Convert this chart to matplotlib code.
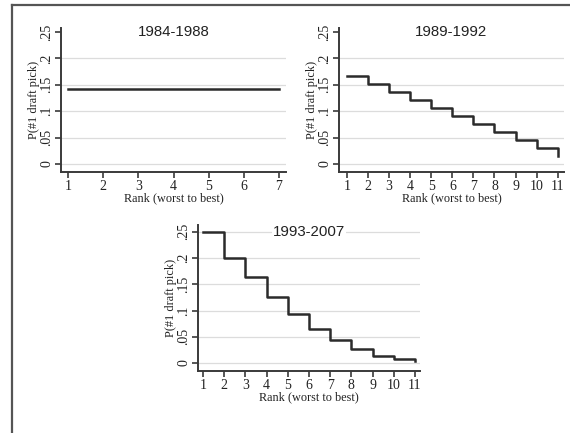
import numpy as np
import matplotlib
matplotlib.use("Agg")
import matplotlib.pyplot as plt
from matplotlib.lines import Line2D

# Lottery odds of getting the #1 pick, by rank (worst to best)
ranks_84 = [1, 2, 3, 4, 5, 6, 7]
prob_84 = [1 / 7] * 7

ranks_89 = list(range(1, 12))
prob_89 = [11 / 66, 10 / 66, 9 / 66, 8 / 66, 7 / 66, 6 / 66, 5 / 66, 4 / 66, 3 / 66, 2 / 66, 1 / 66]

ranks_93 = list(range(1, 12))
prob_93 = [0.25, 0.20, 0.163, 0.125, 0.094, 0.065, 0.044, 0.027, 0.014, 0.007, 0.003]

yticks = [0, 0.05, 0.1, 0.15, 0.2, 0.25]
ytick_labels = ["0", ".05", ".1", ".15", ".2", ".25"]

W, H = 570, 433
fig = plt.figure(figsize=(W / 100, H / 100), dpi=100)
fig.patch.set_facecolor("white")

SERIF = "Liberation Serif"
SANS = "Liberation Sans"


def px_axes(left, right, top, bottom):
    return fig.add_axes([left / W, 1 - bottom / H, (right - left) / W, (bottom - top) / H])


def draw_panel(ax, ranks, probs, title, xlim, ylim, grid_top=False):
    ax.plot(ranks, probs, drawstyle="steps-post", color="#2b2b2b", lw=1.8, zorder=3)
    ax.set_xlim(*xlim)
    ax.set_ylim(*ylim)
    ax.set_xticks(ranks)
    ax.set_xticklabels([str(r) for r in ranks], family=SERIF, fontsize=10)
    ax.set_yticks(yticks)
    ax.set_yticklabels(ytick_labels, family=SERIF, fontsize=10, rotation=90, va="center")
    grid_vals = yticks if grid_top else yticks[:-1]
    for g in grid_vals:
        ax.axhline(g, color="#dcdcdc", lw=0.9, zorder=1)
    for s in ["top", "right"]:
        ax.spines[s].set_visible(False)
    for s in ["left", "bottom"]:
        ax.spines[s].set_color("#3a3a3a")
        ax.spines[s].set_linewidth(1.4)
    ax.tick_params(direction="out", length=4, width=1.2, color="#3a3a3a", pad=1.5,
                   labelcolor="#222222")
    ax.set_xlabel("Rank (worst to best)", family=SERIF, fontsize=8.8, labelpad=-0.5, color="#222222")
    ax.set_ylabel("P(#1 draft pick)", family=SERIF, fontsize=8.8, labelpad=0.5, color="#222222")
    ax.text(0.5, 0.25, title, transform=ax.get_yaxis_transform(), ha="center", va="center",
            family=SANS, fontsize=10.8, color="#222222", zorder=4,
            bbox=dict(facecolor="white", edgecolor="none", pad=1) if grid_top else None)


ax1 = px_axes(61, 286, 28, 172)
draw_panel(ax1, ranks_84, prob_84, "1984-1988", (0.80, 7.2), (-0.0152, 0.2576))

ax2 = px_axes(339, 564, 28, 172)
draw_panel(ax2, ranks_89, prob_89, "1989-1992", (0.62, 11.3), (-0.0152, 0.2576))

ax3 = px_axes(198, 420, 225, 371)
draw_panel(ax3, ranks_93, prob_93, "1993-2007", (0.76, 11.24), (-0.0153, 0.263), grid_top=True)

# outer frame lines (top and left)
fig.add_artist(Line2D([12 / W, 1], [1 - 5 / H, 1 - 5 / H], transform=fig.transFigure,
                      color="#555555", lw=1.6))
fig.add_artist(Line2D([12 / W, 12 / W], [0, 1 - 5 / H], transform=fig.transFigure,
                      color="#555555", lw=1.6))

fig.savefig("out.png", dpi=100)
